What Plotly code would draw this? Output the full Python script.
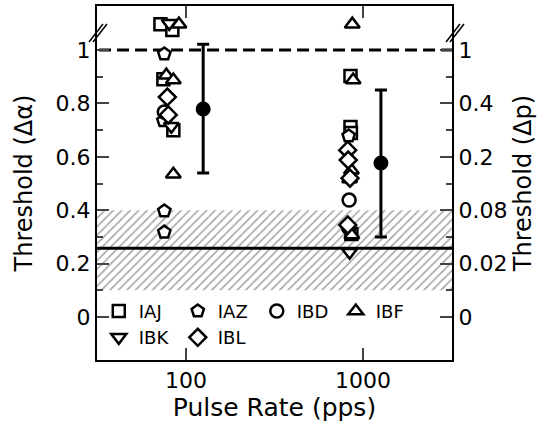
import plotly.graph_objects as go

# ---------------- data ----------------
subjects = ["IAJ", "IAZ", "IBD", "IBF", "IBK", "IBL"]

# low-rate cluster (~80 pps) and high-rate cluster (~850 pps): pulse rate (pps), threshold (delta alpha)
iaj_rate = [71.7, 83.7, 74.5, 84.8, 850, 850, 855, 860]
iaj_thr = [1.097, 1.075, 0.891, 0.700, 0.903, 0.712, 0.689, 0.311]
iaz_rate = [75.4, 74.5, 75.4, 75.4, 830]
iaz_thr = [0.985, 0.735, 0.397, 0.318, 0.678]
ibd_rate = [75.4, 835, 830]
ibd_thr = [0.768, 0.438, 0.334]
ibf_rate = [91.2, 77.4, 84.8, 84.8, 870, 880, 860, 840, 865]
ibf_thr = [1.097, 0.906, 0.888, 0.535, 1.097, 0.888, 0.550, 0.517, 0.307]
ibk_rate = [80.4, 82.6, 840]
ibk_thr = [1.100, 0.715, 0.243]
ibl_rate = [78.4, 79.4, 820, 825, 845, 820]
ibl_thr = [0.824, 0.757, 0.625, 0.588, 0.520, 0.345]

mean_rate = [125, 1263]
mean_thr = [0.779, 0.577]
mean_err_plus = [0.243, 0.273]
mean_err_minus = [0.240, 0.277]

chance_level = 0.258
ceiling_level = 1.0
band_low, band_high = 0.1, 0.4

x_tickvals = [100, 1000]
x_ticktext = ["100", "1000"]
y_tickvals = [0, 0.2, 0.4, 0.6, 0.8, 1]
y_left_ticktext = ["0", "0.2", "0.4", "0.6", "0.8", "1"]
y_right_ticktext = ["0", "0.02", "0.08", "0.2", "0.4", "1"]
y_minor = [0.1, 0.3, 0.5, 0.7, 0.9]

# ---------------- figure ----------------
FONT = "DejaVu Sans"
fig = go.Figure()

# hatched band
fig.add_trace(go.Scatter(
    x=[10, 10000, 10000, 10], y=[band_low, band_low, band_high, band_high],
    fill="toself", mode="lines", line=dict(width=0),
    fillcolor="rgba(0,0,0,0)",
    fillpattern=dict(shape="/", fgcolor="#444444", bgcolor="rgba(0,0,0,0)", size=6, solidity=0.25),
    hoverinfo="skip", showlegend=False))

# reference lines
fig.add_trace(go.Scatter(x=[10, 10000], y=[chance_level, chance_level], mode="lines",
                         line=dict(color="black", width=3), showlegend=False, hoverinfo="skip"))
fig.add_trace(go.Scatter(x=[10, 10000], y=[ceiling_level, ceiling_level], mode="lines",
                         line=dict(color="black", width=3, dash="12px,6px"), showlegend=False, hoverinfo="skip"))

styles = {
    "IAJ": ("square", iaj_rate, iaj_thr, 12),
    "IAZ": ("pentagon", iaz_rate, iaz_thr, 13),
    "IBD": ("circle", ibd_rate, ibd_thr, 13),
    "IBF": ("triangle-up", ibf_rate, ibf_thr, 13),
    "IBK": ("triangle-down", ibk_rate, ibk_thr, 13),
    "IBL": ("diamond", ibl_rate, ibl_thr, 13),
}
for name in subjects:
    sym, xs, ys, sz = styles[name]
    fig.add_trace(go.Scatter(
        x=xs, y=ys, mode="markers", name=name,
        marker=dict(symbol=sym, size=sz, color="white", line=dict(color="black", width=2.5))))

# means with error bars
fig.add_trace(go.Scatter(
    x=mean_rate, y=mean_thr, mode="markers", showlegend=False,
    marker=dict(symbol="circle", size=15, color="black"),
    error_y=dict(type="data", array=mean_err_plus, arrayminus=mean_err_minus,
                 color="black", thickness=3, width=6)))

# dummy trace to activate right axis
fig.add_trace(go.Scatter(x=[100], y=[0], yaxis="y2", mode="markers",
                         marker=dict(opacity=0), showlegend=False, hoverinfo="skip"))

yr = [-0.161, 1.165]
fig.update_layout(
    width=551, height=431,
    margin=dict(l=97, r=99, t=6, b=71),
    plot_bgcolor="white", paper_bgcolor="white",
    font=dict(family=FONT, color="black", size=22),
    xaxis=dict(type="log", range=[1.497, 3.503], tickvals=x_tickvals, ticktext=x_ticktext,
               ticks="inside", ticklen=12, tickwidth=2, showline=True, linewidth=2,
               linecolor="black", mirror="ticks", showgrid=False, zeroline=False,
               tickfont=dict(size=22),
               title=dict(text="Pulse Rate (pps)", font=dict(size=25), standoff=6),
               automargin=False),
    yaxis=dict(range=yr, tickvals=y_tickvals, ticktext=y_left_ticktext,
               ticks="inside", ticklen=12, tickwidth=2, showline=True, linewidth=2,
               linecolor="black", showgrid=False, zeroline=False,
               minor=dict(tickvals=y_minor, ticks="inside", ticklen=6, tickwidth=2),
               tickfont=dict(size=22),
               title=dict(text="Threshold (Δα)", font=dict(size=24), standoff=16),
               automargin=False),
    yaxis2=dict(range=yr, overlaying="y", side="right", tickvals=y_tickvals,
                ticktext=y_right_ticktext, ticks="inside", ticklen=12, tickwidth=2,
                showline=True, linewidth=2, linecolor="black", showgrid=False, zeroline=False,
                minor=dict(tickvals=y_minor, ticks="inside", ticklen=6, tickwidth=2),
                tickfont=dict(size=22),
                title=dict(text="Threshold (Δp)", font=dict(size=24), standoff=8),
                automargin=False),
    legend=dict(orientation="h", x=0.005, xanchor="left", y=0.19, yanchor="top",
                bgcolor="rgba(0,0,0,0)", font=dict(size=18), entrywidth=34,
                entrywidthmode="pixels", itemsizing="trace", tracegroupgap=0),
    showlegend=True,
)

# axis-break marks
def pw(px):
    return (px - 97) / 355.0

def ph(py):
    return (360 - py) / 354.0

for x0 in (89, 446):
    for dx in (0, 4):
        fig.add_shape(type="line", xref="paper", yref="paper",
                      x0=pw(x0 + dx), y0=ph(42), x1=pw(x0 + dx + 14), y1=ph(24),
                      line=dict(color="black", width=1.5))

fig.write_html("out.html")
